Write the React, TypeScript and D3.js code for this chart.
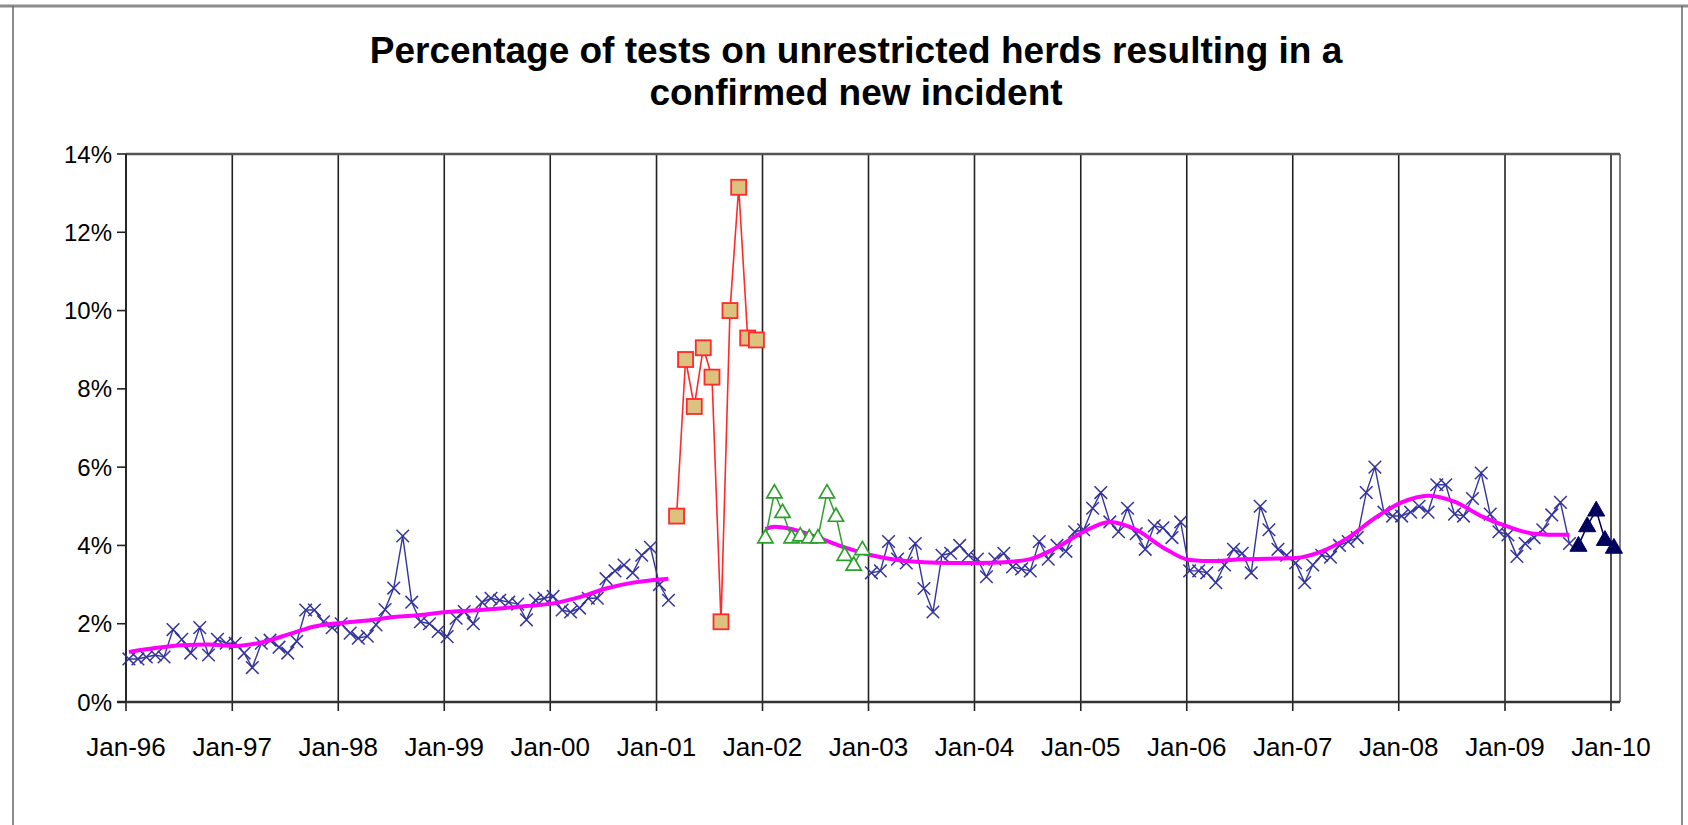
import React from "react";
import * as d3 from "d3";

// ---------------- DATA ----------------
const titleLines = [
  "Percentage of tests on unrestricted herds resulting in a",
  "confirmed new incident",
];

const xTickYears = [1996, 1997, 1998, 1999, 2000, 2001, 2002, 2003, 2004, 2005, 2006, 2007, 2008, 2009, 2010];
const xTickLabels = ["Jan-96", "Jan-97", "Jan-98", "Jan-99", "Jan-00", "Jan-01", "Jan-02", "Jan-03", "Jan-04", "Jan-05", "Jan-06", "Jan-07", "Jan-08", "Jan-09", "Jan-10"];
const yTicks = [0, 2, 4, 6, 8, 10, 12, 14];

// monthly values (%) — Jan-96 .. Feb-01
const blueEarlyStart = { year: 1996, month: 0 };
const blueEarly = [
  1.1, 1.1, 1.15, 1.2, 1.15, 1.85, 1.6, 1.25, 1.9, 1.2, 1.6, 1.5,
  1.5, 1.25, 0.88, 1.5, 1.58, 1.4, 1.25, 1.55, 2.35, 2.35, 2.05, 1.9,
  2.0, 1.76, 1.63, 1.68, 1.97, 2.36, 2.91, 4.24, 2.55, 2.05, 2.0, 1.8,
  1.67, 2.14, 2.31, 2.0, 2.55, 2.65, 2.6, 2.55, 2.5, 2.1, 2.6, 2.65,
  2.7, 2.35, 2.3, 2.4, 2.65, 2.65, 3.15, 3.35, 3.5, 3.3, 3.75, 3.95,
  3.0, 2.6,
];

// Mar-01 .. Dec-01 (FMD year)
const redStart = { year: 2001, month: 2 };
const redValues = [4.75, 8.75, 7.55, 9.05, 8.3, 2.05, 10.0, 13.15, 9.3, 9.25];

// Jan-02 .. Dec-02
const greenStart = { year: 2002, month: 0 };
const greenValues = [4.2, 5.35, 4.85, 4.2, 4.25, 4.2, 4.2, 5.35, 4.75, 3.75, 3.5, 3.9];

// Jan-03 .. Aug-09
const blueLateStart = { year: 2003, month: 0 };
const blueLate = [
  3.3, 3.35, 4.1, 3.65, 3.55, 4.05, 2.9, 2.3, 3.75, 3.8, 4.0, 3.75,
  3.65, 3.2, 3.65, 3.8, 3.45, 3.4, 3.35, 4.1, 3.65, 4.0, 3.85, 4.35,
  4.4, 4.95, 5.35, 4.6, 4.35, 4.95, 4.3, 3.9, 4.5, 4.45, 4.2, 4.6,
  3.35, 3.35, 3.3, 3.05, 3.5, 3.9, 3.8, 3.3, 5.0, 4.4, 3.9, 3.75,
  3.55, 3.05, 3.5, 3.75, 3.7, 4.0, 4.1, 4.2, 5.35, 6.0, 4.85, 4.75,
  4.75, 4.85, 5.0, 4.85, 5.55, 5.55, 4.8, 4.75, 5.2, 5.85, 4.8, 4.35,
  4.27, 3.72, 4.05, 4.2, 4.4, 4.78, 5.1, 4.05,
];

// Sep-09 .. Jan-10
const navyStart = { year: 2009, month: 8 };
const navyValues = [4.0, 4.5, 4.9, 4.15, 3.95];

// trend (months counted from Jan-96)
const trend1Months = [0, 3, 6, 9, 12, 15, 18, 21, 24, 27, 30, 33, 36, 39, 42, 45, 48, 51, 54, 57, 61];
const trend1Values = [1.28, 1.38, 1.45, 1.47, 1.43, 1.52, 1.72, 1.93, 2.02, 2.08, 2.17, 2.22, 2.3, 2.34, 2.39, 2.45, 2.52, 2.68, 2.9, 3.05, 3.15];
const trend2Months = [72, 73, 75, 78, 81, 84, 87, 90, 93, 96, 99, 102, 105, 108, 111, 114, 117, 120, 123, 126, 129, 132, 135, 138, 141, 144, 147, 150, 153, 156, 159, 162, 163];
const trend2Values = [4.42, 4.48, 4.42, 4.2, 3.95, 3.75, 3.63, 3.57, 3.55, 3.55, 3.57, 3.65, 3.95, 4.35, 4.6, 4.4, 3.95, 3.63, 3.6, 3.65, 3.66, 3.68, 3.85, 4.2, 4.7, 5.1, 5.27, 5.12, 4.75, 4.48, 4.3, 4.27, 4.27];

// ---------------- HELPERS ----------------
type Pt = { date: Date; v: number };
const monthly = (start: { year: number; month: number }, values: number[]): Pt[] =>
  values.map((v, i) => ({ date: new Date(start.year, start.month + i, 11), v }));
const fromMonths = (months: number[], values: number[]): Pt[] =>
  months.map((m, i) => ({ date: new Date(1996, m, 11), v: values[i] }));

const W = 1688;
const H = 825;
const plotLeft = 126;
const plotRight = 1620;
const plotTop = 154;
const plotBottom = 702;

const x = d3.scaleTime().domain([new Date(1996, 0, 1), new Date(2010, 0, 1)]).range([126, 1611]);
const y = d3.scaleLinear().domain([0, 14]).range([plotBottom, plotTop]);

const lineGen = d3
  .line<Pt>()
  .x((d) => x(d.date))
  .y((d) => y(d.v));
const trendGen = d3
  .line<Pt>()
  .x((d) => x(d.date))
  .y((d) => y(d.v))
  .curve(d3.curveMonotoneX);

const FONT = "'Liberation Sans', Arial, sans-serif";

const BLUE = "#34349c";
const RED = "#ff2a2a";
const GREEN = "#2ca02c";
const NAVY = "#00005e";
const MAGENTA = "#ff00ff";

export default function App() {
  const blue1 = monthly(blueEarlyStart, blueEarly);
  const blue2 = monthly(blueLateStart, blueLate);
  const red = monthly(redStart, redValues);
  const green = monthly(greenStart, greenValues);
  const navy = monthly(navyStart, navyValues);
  const t1 = fromMonths(trend1Months, trend1Values);
  const t2 = fromMonths(trend2Months, trend2Values);

  const xs = 6.3;
  const tri = (cx: number, cy: number, s: number) =>
    `M${cx},${cy - s}L${cx + s * 0.95},${cy + s * 0.65}L${cx - s * 0.95},${cy + s * 0.65}Z`;

  return (
    <svg
      width={W}
      height={H}
      style={{ position: "absolute", left: 0, top: 0, background: "#fff" }}
      xmlns="http://www.w3.org/2000/svg"
    >
      <rect x={0} y={0} width={W} height={H} fill="#fff" />
      {/* outer frame */}
      <line x1={0} x2={W} y1={6} y2={6} stroke="#8c8c8c" strokeWidth={3} />
      <line x1={13} x2={13} y1={6} y2={H} stroke="#666" strokeWidth={1.5} />
      <line x1={1682} x2={1682} y1={6} y2={H} stroke="#666" strokeWidth={1.5} />

      {/* title */}
      {titleLines.map((t, i) => (
        <text
          key={i}
          x={856}
          y={63 + i * 42}
          textAnchor="middle"
          fontFamily={FONT}
          fontWeight="bold"
          fontSize={37}
          fill="#000"
        >
          {t}
        </text>
      ))}

      {/* vertical gridlines */}
      {xTickYears.map((yr) => (
        <line
          key={"g" + yr}
          x1={x(new Date(yr, 0, 1))}
          x2={x(new Date(yr, 0, 1))}
          y1={plotTop}
          y2={plotBottom + 9}
          stroke="#222"
          strokeWidth={1.6}
        />
      ))}
      {/* plot border */}
      <line x1={plotLeft} x2={plotRight} y1={plotTop} y2={plotTop} stroke="#555" strokeWidth={2.5} />
      <line x1={plotRight} x2={plotRight} y1={plotTop} y2={plotBottom} stroke="#555" strokeWidth={1.5} />
      <line x1={plotLeft} x2={plotLeft} y1={plotTop} y2={plotBottom} stroke="#222" strokeWidth={1.8} />
      <line x1={plotLeft - 9} x2={plotRight} y1={plotBottom} y2={plotBottom} stroke="#333" strokeWidth={2.5} />

      {/* y ticks and labels */}
      {yTicks.map((t) => (
        <g key={"y" + t}>
          <line x1={plotLeft - 9} x2={plotLeft} y1={y(t)} y2={y(t)} stroke="#222" strokeWidth={1.6} />
          <text
            x={plotLeft - 14}
            y={y(t) + 8.5}
            textAnchor="end"
            fontFamily={FONT}
            fontSize={24}
            fill="#000"
          >
            {t + "%"}
          </text>
        </g>
      ))}

      {/* x labels */}
      {xTickYears.map((yr, i) => (
        <text
          key={"xl" + yr}
          x={x(new Date(yr, 0, 1))}
          y={756}
          textAnchor="middle"
          fontFamily={FONT}
          fontSize={26}
          fill="#000"
        >
          {xTickLabels[i]}
        </text>
      ))}

      {/* blue series */}
      {[blue1, blue2].map((s, si) => (
        <g key={"b" + si}>
          <path d={lineGen(s) || ""} fill="none" stroke={BLUE} strokeWidth={1.4} />
          {s.map((d, i) => {
            const cx = x(d.date);
            const cy = y(d.v);
            return (
              <path
                key={i}
                d={`M${cx - xs},${cy - xs}L${cx + xs},${cy + xs}M${cx - xs},${cy + xs}L${cx + xs},${cy - xs}`}
                stroke={BLUE}
                strokeWidth={1.5}
                fill="none"
              />
            );
          })}
        </g>
      ))}

      {/* trend lines */}
      {[t1, t2].map((s, si) => (
        <path key={"t" + si} d={trendGen(s) || ""} fill="none" stroke={MAGENTA} strokeWidth={4} />
      ))}

      {/* red series */}
      <path d={lineGen(red) || ""} fill="none" stroke={RED} strokeWidth={1.6} />
      {red.map((d, i) => (
        <rect
          key={"r" + i}
          x={x(d.date) - 7.5}
          y={y(d.v) - 7.5}
          width={15}
          height={15}
          fill="#dcc17f"
          stroke={RED}
          strokeWidth={1.8}
        />
      ))}

      {/* green series */}
      <path d={lineGen(green) || ""} fill="none" stroke={GREEN} strokeWidth={1.5} />
      {green.map((d, i) => (
        <path key={"gr" + i} d={tri(x(d.date), y(d.v), 8)} fill="#fff" stroke={GREEN} strokeWidth={1.7} />
      ))}

      {/* navy series */}
      <path d={lineGen(navy) || ""} fill="none" stroke={NAVY} strokeWidth={1.5} />
      {navy.map((d, i) => (
        <path key={"n" + i} d={tri(x(d.date), y(d.v), 9)} fill={NAVY} stroke={NAVY} strokeWidth={1} />
      ))}
    </svg>
  );
}
